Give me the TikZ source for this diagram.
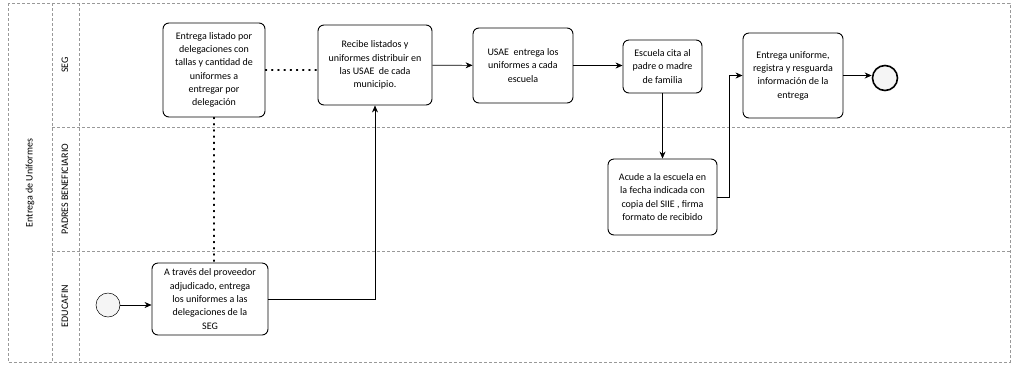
\documentclass[tikz,border=0pt]{standalone}
\usepackage{fontspec}
\setmainfont{Carlito}
\usetikzlibrary{arrows.meta}
\begin{document}
\begin{tikzpicture}[x=1pt, y=-1pt,
  lane/.style={gray!80, densely dashed, line width=0.5pt},
  tarea/.style={draw, rounded corners=6pt, line width=0.9pt, align=center, font=\fontsize{10}{13.3}\selectfont, inner sep=2pt},
  inicioev/.style={draw, circle, line width=0.5pt, fill=gray!8, minimum size=24pt, inner sep=0pt},
  finev/.style={draw, circle, line width=1.6pt, fill=gray!8, minimum size=25pt, inner sep=0pt},
  flujo/.style={-{Stealth[length=7pt, width=6pt]}, line width=0.6pt},
  asoc/.style={line width=1.2pt, dash pattern=on 1.2pt off 5pt, line cap=round},
  carril/.style={rotate=90, font=\fontsize{10}{12}\selectfont}]
\useasboundingbox (0,0) rectangle (1014,368);
\draw[lane] (8,3) rectangle (1010,362);
\draw[lane] (52,3) -- (52,362);
\draw[lane] (79,3) -- (79,362);
\draw[lane] (52,127) -- (1010,127);
\draw[lane] (52,251) -- (1010,251);
\node[carril] (pool) at (30,183) {Entrega de Uniformes};
\node[carril] (seg) at (65,65) {SEG};
\node[carril] (padres) at (65,189) {PADRES BENEFICIARIO};
\node[carril] (educafin) at (65,306) {EDUCAFIN};
\node[tarea, minimum width=102pt, minimum height=94pt] (listado) at (214,70) {Entrega listado por\\delegaciones con\\tallas y cantidad de\\uniformes a\\entregar por\\delegación};
\node[tarea, minimum width=114pt, minimum height=80pt] (recibe) at (375,65) {Recibe listados y\\uniformes distribuir en\\las USAE\ \ de cada\\municipio.};
\node[tarea, minimum width=100pt, minimum height=75pt] (usae) at (523,65.5) {USAE\ \ entrega los\\uniformes a cada\\escuela};
\node[tarea, minimum width=79pt, minimum height=53pt] (escuela) at (662.5,66.5) {Escuela cita al\\padre o madre\\de familia};
\node[tarea, minimum width=100pt, minimum height=85pt] (entrega) at (793,75.5) {Entrega uniforme,\\registra y resguarda\\información de la\\entrega};
\node[finev] (fin) at (885,78) {};
\node[tarea, minimum width=109pt, minimum height=76pt] (acude) at (662.5,197) {Acude a la escuela en\\la fecha indicada con\\copia del SIIE , firma\\formato de recibido};
\node[tarea, minimum width=116pt, minimum height=72pt] (traves) at (210,299) {A través del proveedor\\adjudicado, entrega\\los uniformes a las\\delegaciones de la\\SEG};
\node[inicioev] (inicio) at (108,305) {};
\draw[flujo] (inicio) -- (inicio -| traves.west);
\draw[flujo] (traves.east) -| (recibe.south);
\draw[asoc] (listado.east) -- (listado.east -| recibe.west);
\draw[asoc] (listado.south) -- (listado.south |- traves.north);
\draw[flujo] (recibe) -- (usae);
\draw[flujo] (usae.east) -- (usae.east -| escuela.west);
\draw[flujo] (escuela) -- (acude);
\draw[flujo] (acude.east) -- ++(12,0) |- (entrega.west);
\draw[flujo] (entrega.east) -- (entrega.east -| fin.west);
\end{tikzpicture}
\end{document}
